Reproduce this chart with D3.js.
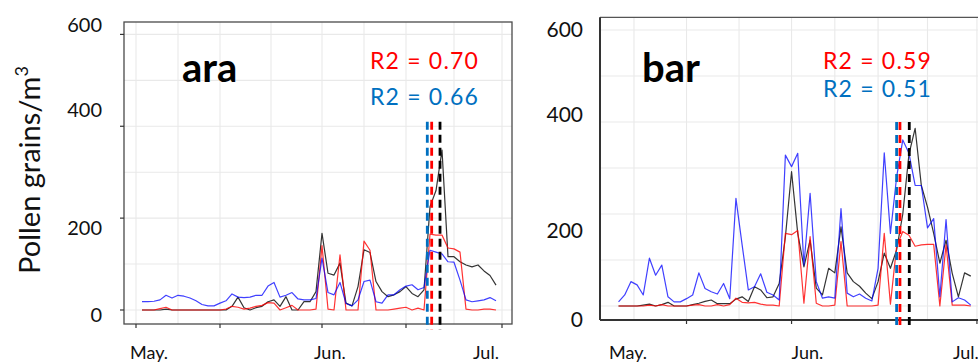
<!DOCTYPE html>
<html><head><meta charset="utf-8">
<script src="https://cdn.jsdelivr.net/npm/d3@7"></script>
<style>
body{margin:0;background:#fff}
svg{display:block}
text{font-family:Lato,"Open Sans",sans-serif}
</style>
</head><body>
<svg id="c" width="978" height="362"></svg>
<script>
// ---------------- data ----------------
// daily series; panel "ara" starts 2 May, panel "bar" starts 4 May
const araStart = "2000-05-02";
const araObs  = [0,0,0,0,2,0,0,0,0,0, 0,0,0,0,0,8,28,5,0,5, 8,18,22,8,29,0,0,18,18,40,
                 167,80,76,102,15,9,51,131,125,62, 40,29,33,40,51,36,29,44,225,260, 348,116,116,105,98,94,98,85,75,54];
const araRed  = [0,0,0,3,6,0,0,0,0,0, 0,0,0,0,2,8,6,2,4,8, 10,16,15,0,5,10,0,0,0,2,
                 140,2,0,120,0,0,0,150,130,0, 0,0,2,4,6,0,4,0,165,163, 163,135,133,126,2,0,0,2,2,0];
const araBlue = [18,18,19,22,32,26,32,30,26,20, 12,9,9,15,20,35,28,27,28,32, 32,52,60,28,32,38,24,22,22,25,
                 113,38,33,60,14,9,22,62,65,18, 15,33,33,44,52,55,44,49,130,126, 122,105,104,65,22,18,20,22,27,20];

const barStart = "2000-05-04";
const barObs  = [0,0,0,0,2,4,0,3,8,0, 0,0,3,6,10,13,5,5,5,15, 20,10,42,35,18,20,49,150,292,158,
                 85,143,39,24,82,72,172,72,53,43, 28,16,53,115,82,122,200,330,386,262, 215,158,93,143,71,20,72,65];
const barRed  = [0,0,0,0,0,2,0,3,0,0, 0,0,2,3,0,0,3,0,3,17, 8,7,8,4,2,2,0,158,155,164,
                 6,151,6,0,0,2,140,0,0,0, 0,0,2,158,4,129,162,154,130,133, 134,134,0,133,2,2,2,0];
const barBlue = [9,24,53,46,24,104,67,89,20,9, 9,16,24,72,38,31,26,49,16,234, 133,35,42,70,30,24,13,328,303,332,
                 89,245,53,17,20,17,212,28,20,26, 17,11,82,333,158,280,361,332,262,262, 170,190,20,188,9,18,13,2];

// peak-date markers (dashed lines)
const araPeaks = [["2000-06-18T13:12","#0070C0"],["2000-06-19T06:43","#FF0000"],["2000-06-20T16:05","#000000"]];
const barPeaks = [["2000-06-18T00:00","#0070C0"],["2000-06-18T13:00","#FF0000"],["2000-06-20T01:12","#000000"]];

// axes
const yTicks = [0,200,400,600];
const yGrid  = [0,100,200,300,400,500,600];
const monthLabels = ["May.","Jun.","Jul."];
const monthDates  = ["2000-05-01","2000-06-01","2000-07-01"];
const araXTicks = ["2000-05-01","2000-05-15","2000-06-01","2000-06-15","2000-07-01"];
const araXMinor = ["2000-05-08","2000-05-23T12:00","2000-06-08","2000-06-23"];
const barXTicks = ["2000-05-15","2000-06-01","2000-06-15","2000-07-01"];
const barXMinor = ["2000-05-06T12:00","2000-05-23T12:00","2000-06-08","2000-06-23"];

const titles = ["ara","bar"];
const r2Red  = ["R2 = 0.70","R2 = 0.59"];
const r2Blue = ["R2 = 0.66","R2 = 0.51"];

// ---------------- helpers ----------------
const P = s => new Date(s.length===10 ? s+"T00:00:00Z" : s+":00Z");
const DAY = 864e5;

const svg = d3.select("#c");

function panel(cfg){
  const {x, y, start, obs, red, blue, peaks, xTicks, xMinor, frame} = cfg;
  const g = svg.append("g");
  // grid
  const gx = [...xTicks, ...xMinor].map(P);
  g.selectAll(".vg").data(gx).join("line")
    .attr("x1", d=>x(d)).attr("x2", d=>x(d))
    .attr("y1", y.range()[0]).attr("y2", y.range()[1])
    .attr("stroke","#e9e9e9").attr("stroke-width",1.1);
  g.selectAll(".hg").data(yGrid).join("line")
    .attr("x1", x.range()[0]).attr("x2", Math.min(x.range()[1], 990))
    .attr("y1", d=>y(d)).attr("y2", d=>y(d))
    .attr("stroke","#e9e9e9").attr("stroke-width",1.1);

  // series
  const s0 = P(start);
  const line = d3.line().x((d,i)=>x(new Date(+s0 + i*DAY))).y(d=>y(d));
  [[obs,"#111",0.85],[red,"#ff0000",0.8],[blue,"#0000ff",0.75]].forEach(([arr,c,o])=>{
    g.append("path").datum(arr).attr("d",line).attr("fill","none")
      .attr("stroke",c).attr("stroke-opacity",o).attr("stroke-width",1.2)
      .attr("stroke-linejoin","round");
  });

  // frame
  frame(g);

  // x ticks
  g.selectAll(".xt").data(xTicks.map(P)).join("line")
    .attr("x1", d=>x(d)).attr("x2", d=>x(d))
    .attr("y1", y.range()[0]).attr("y2", y.range()[0]+4)
    .attr("stroke","#333").attr("stroke-width",1.2);

  // peak dashed lines
  g.selectAll(".pk").data(peaks).join("line")
    .attr("x1", d=>x(P(d[0]))).attr("x2", d=>x(P(d[0])))
    .attr("y1", y(cfg.peakTop)).attr("y2", y(cfg.peakBottom))
    .attr("stroke", d=>d[1]).attr("stroke-width",2.8)
    .attr("stroke-dasharray","8,5");

  // y labels
  g.selectAll(".yl").data(yTicks).join("text")
    .attr("x", cfg.yLabelX).attr("y", (d,i)=>y(d)+cfg.yLabelNudge[i])
    .attr("text-anchor","end").attr("font-size",cfg.yLabelSize).attr("fill","#111")
    .text(d=>d);

  // month labels
  g.selectAll(".ml").data(monthDates).join("text")
    .attr("x", (d,i)=>x(P(d))+cfg.monthNudge[i]).attr("y", 359)
    .attr("font-size",18).attr("fill","#111")
    .text((d,i)=>monthLabels[i]);

  // title and R2
  g.append("text").attr("x",cfg.titleX).attr("y",82).attr("font-size",40)
    .attr("font-weight","bold").attr("fill","#000").text(cfg.title);
  g.append("text").attr("x",cfg.r2X).attr("y",69).attr("font-size",23)
    .attr("letter-spacing",1.2).attr("fill","#FF0000").text(cfg.r2a);
  g.append("text").attr("x",cfg.r2X).attr("y",cfg.r2bY).attr("font-size",23)
    .attr("letter-spacing",1.2).attr("fill","#0070C0").text(cfg.r2b);
  return g;
}

// ---------------- left panel ----------------
const xL = d3.scaleUtc().domain([P("2000-04-29"), P("2000-07-02T16:00")]).range([124,512]);
const yL = d3.scaleLinear().domain([-30.5, 627]).range([324, 22]);
panel({
  x:xL, y:yL, start:araStart, obs:araObs, red:araRed, blue:araBlue, peaks:araPeaks,
  xTicks:araXTicks, xMinor:araXMinor, peakTop:410, peakBottom:-43.5,
  yLabelX:102, yLabelNudge:[12,17,-9,-2.8], yLabelSize:20,
  monthNudge:[-6,-8,-29], title:titles[0], titleX:182, r2X:370, r2a:r2Red[0], r2b:r2Blue[0], r2bY:105,
  frame: g=>{
    g.append("rect").attr("x",124).attr("y",22).attr("width",388).attr("height",302)
      .attr("fill","none").attr("stroke","#4a4a4a").attr("stroke-width",1.3);
    g.selectAll(".ytk").data(yTicks).join("line")
      .attr("x1",120).attr("x2",124).attr("y1",d=>yL(d)).attr("y2",d=>yL(d))
      .attr("stroke","#333").attr("stroke-width",1.2);
  }
});

// ---------------- right panel ----------------
const xR = d3.scaleUtc().domain([P("2000-05-01"), P("2000-07-03")]).range([600, 989.3]);
const yR = d3.scaleLinear().domain([-30.4, 627.6]).range([320, 17.3]);
panel({
  x:xR, y:yR, start:barStart, obs:barObs, red:barRed, blue:barBlue, peaks:barPeaks,
  xTicks:barXTicks, xMinor:barXMinor, peakTop:400, peakBottom:-52,
  yLabelX:583, yLabelNudge:[20.7,24.3,0,6.7], yLabelSize:21,
  monthNudge:[9,0,-24], title:titles[1], titleX:642, r2X:823, r2a:r2Red[1], r2b:r2Blue[1], r2bY:97,
  frame: g=>{
    g.append("line").attr("x1",600).attr("x2",990).attr("y1",17.3).attr("y2",17.3)
      .attr("stroke","#555").attr("stroke-width",1.3);
    g.append("line").attr("x1",600).attr("x2",990).attr("y1",320).attr("y2",320)
      .attr("stroke","#333").attr("stroke-width",2);
    g.append("line").attr("x1",600).attr("x2",600).attr("y1",17.3).attr("y2",320)
      .attr("stroke","#333").attr("stroke-width",2);
  }
});

// y-axis title
const yt = svg.append("text").attr("transform","translate(40,170) rotate(-90)")
  .attr("text-anchor","middle").attr("font-size",29).attr("fill","#111");
yt.append("tspan").text("Pollen grains/m");
yt.append("tspan").attr("font-size",18).attr("dy",-12).text("3");
</script>
</body></html>
